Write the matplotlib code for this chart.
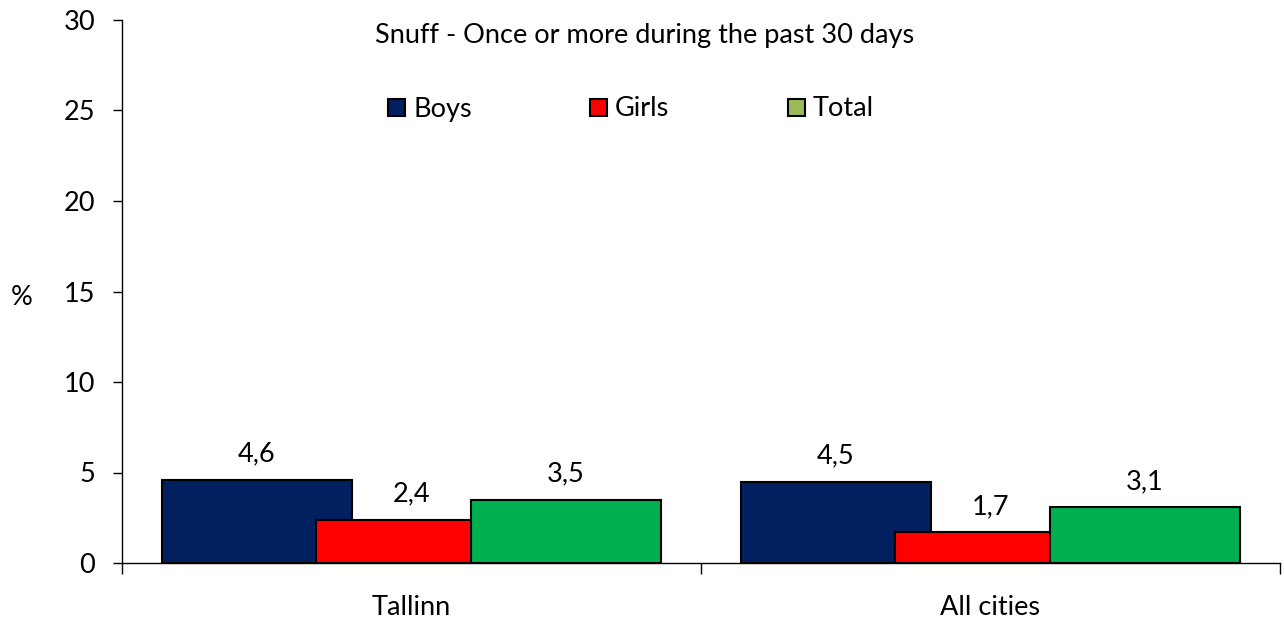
import matplotlib
matplotlib.use("Agg")
import matplotlib.pyplot as plt
from matplotlib.patches import Rectangle
import numpy as np

categories = ["Tallinn", "All cities"]
series = ["Boys", "Girls", "Total"]
boys = [4.6, 4.5]
girls = [2.4, 1.7]
total = [3.5, 3.1]
values = [boys, girls, total]
bar_colors = ["#002060", "#FF0000", "#00B050"]
legend_colors = ["#002060", "#FF0000", "#9BBB59"]
title = "Snuff - Once or more during the past 30 days"

plt.rcParams['font.family'] = ['Lato', 'DejaVu Sans']
FS = 19.5
W, H = 1284, 619

fig = plt.figure(figsize=(W/100, H/100), dpi=100)
ax = fig.add_axes([122/W, 1-563/H, (1280-122)/W, (563-20)/H])

x = np.arange(len(categories))
width = 0.329
offsets = [-0.267, 0.0, 0.267]
for i, (name, vals) in enumerate(zip(series, values)):
    bars = ax.bar(x + offsets[i], vals, width, color=bar_colors[i], edgecolor="black",
                  linewidth=1.5, zorder=3 + i)
    for b, v in zip(bars, vals):
        ax.annotate(f"{v:.1f}".replace(".", ","), (b.get_x() + b.get_width()/2, v),
                    xytext=(0, 13), textcoords="offset points", ha="center", va="baseline",
                    fontsize=FS, color="black")

ax.set_xlim(-0.5, len(categories) - 0.5)
ax.set_ylim(0, 30)
ax.set_yticks(np.arange(0, 31, 5))
ax.tick_params(axis="y", direction="out", length=6.5, width=1, labelsize=FS, pad=13)
ax.set_xticks(x)
ax.set_xticklabels(categories, fontsize=FS)
ax.tick_params(axis="x", which="major", length=0, pad=23)
ax.set_xticks(np.arange(-0.5, len(categories)), minor=True)
ax.tick_params(axis="x", which="minor", direction="out", length=8, width=1)

for s in ["top", "right"]:
    ax.spines[s].set_visible(False)
for s in ["left", "bottom"]:
    ax.spines[s].set_linewidth(1)
    ax.spines[s].set_zorder(2)

fig.text(22/W, 1-298/H, "%", fontsize=FS, ha="center", va="center")
fig.text(645/W, 1-35/H, title, fontsize=FS, ha="center", va="center")

# legend: manually placed entries
leg_x = [388, 590, 788]
sw = 17
leg_y = 107
for lx, name, c in zip(leg_x, series, legend_colors):
    fig.patches.append(Rectangle((lx/W, 1-(leg_y+sw/2)/H), sw/W, sw/H, transform=fig.transFigure,
                                 facecolor=c, edgecolor="black", linewidth=1.5))
    fig.text((lx+sw+8)/W, 1-(leg_y+2)/H, name, fontsize=FS, ha="left", va="center")

fig.savefig("out.png", dpi=100)
